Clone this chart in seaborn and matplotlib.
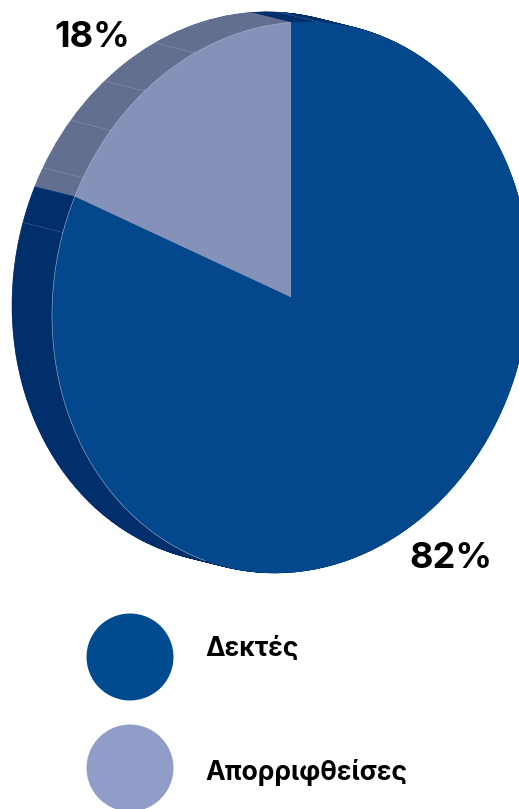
import numpy as np
import matplotlib
matplotlib.use("Agg")
import matplotlib.pyplot as plt
from matplotlib.patches import Arc
from matplotlib.transforms import Affine2D
import pandas as pd
import seaborn as sns

# Data
categories = ["Απορριφθείσες", "Δεκτές"]
shares = [18, 82]
legend_order = ["Δεκτές", "Απορριφθείσες"]
top_colors = ["#8492B9", "#03488D"]
side_colors = ["#636F90", "#002F6C"]
legend_colors = ["#004A8F", "#8F9DC8"]
seam_angles = [-7, 23.7, 37.7, 48.9, 60.5, 72.6]

sns.set_theme(style="white")
plt.rcParams["font.family"] = ["Inter", "DejaVu Sans"]

W, H = 519, 809
fig = plt.figure(figsize=(W / 100, H / 100), dpi=100, facecolor="white")
ax = fig.add_axes([0, 0, 1, 1])

CX, CY, RX, RY, SHEAR = 291, 297.5, 239, 275, 18
DX, DY = -40, -10


def disc_transform(t):
    m = np.array([[RX, 0, CX + DX * t], [-SHEAR, -RY, CY + DY * t], [0, 0, 1]], float)
    return Affine2D(m) + ax.transData


# extrusion: stack of pies from back to front
for t in np.linspace(1, 0.01, 80):
    wedges = ax.pie(shares, colors=side_colors, startangle=90, radius=1, normalize=True,
                    wedgeprops=dict(transform=disc_transform(t), linewidth=0.4))[0]
    for w, c in zip(wedges, side_colors):
        w.set_edgecolor(c)

# facet seams on the side
for a in seam_angles:
    u, v = -np.sin(np.radians(a)), np.cos(np.radians(a))
    x0, y0 = CX + RX * u, CY - RY * v - SHEAR * u
    ax.plot([x0, x0 + DX], [y0, y0 + DY], color="white", alpha=0.3, lw=0.5,
            ls=(0, (3, 1.5)), zorder=1.5)

# top face
tops = ax.pie(shares, colors=top_colors, startangle=90, radius=1, normalize=True,
              wedgeprops=dict(transform=disc_transform(0), linewidth=0))[0]
for w in tops:
    w.set_zorder(2)
ax.add_patch(Arc((0, 0), 2, 2, theta1=90, theta2=249, color="#A9B8D2", lw=0.4,
                 transform=disc_transform(0), zorder=3))

# share labels
ax.text(92.5, 37, f"{shares[0]}%", fontsize=26, fontweight="bold", color="black",
        ha="center", va="center", zorder=5)
ax.text(451, 559, f"{shares[1]}%", fontsize=26, fontweight="bold", color="black",
        ha="center", va="center", zorder=5)

# legend
legend_df = pd.DataFrame({"name": legend_order, "x": [130, 130], "y": [657, 768]})
sns.scatterplot(data=legend_df, x="x", y="y", hue="name", palette=legend_colors,
                hue_order=legend_order, s=3920, linewidth=0, legend=False, ax=ax, zorder=4)
ax.set_aspect("auto")
ax.set_xlim(0, W)
ax.set_ylim(H, 0)
ax.axis("off")
ax.text(205, 649, legend_order[0], fontsize=19, fontweight="bold", color="black",
        ha="left", va="center", zorder=5)
ax.text(205, 773, legend_order[1], fontsize=19, fontweight="bold", color="black",
        ha="left", va="center", zorder=5)

fig.savefig("out.png", dpi=100, facecolor="white")
